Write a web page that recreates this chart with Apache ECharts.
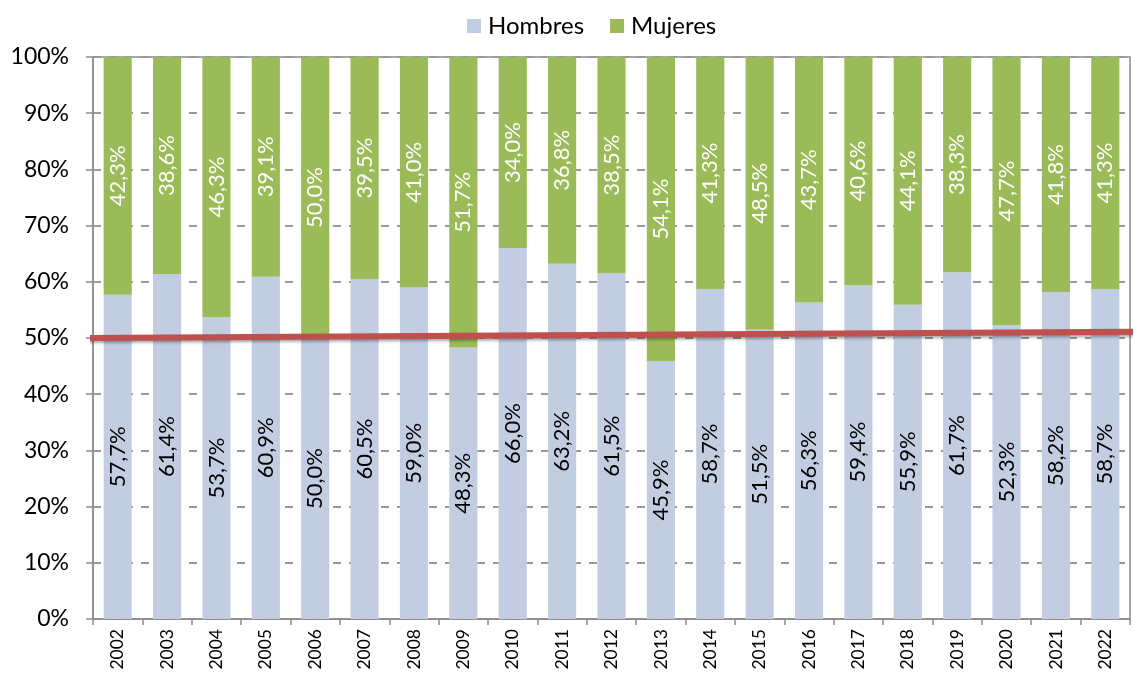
<!DOCTYPE html>
<html>
<head>
<meta charset="utf-8">
<script src="https://cdn.jsdelivr.net/npm/echarts@6/dist/echarts.min.js"></script>
<style>html,body{margin:0;padding:0;background:#fff}#c{width:1134px;height:677px}</style>
</head>
<body>
<div id="c"></div>
<script>
const years = ['2002','2003','2004','2005','2006','2007','2008','2009','2010','2011','2012','2013','2014','2015','2016','2017','2018','2019','2020','2021','2022'];
const hombres = [57.7,61.4,53.7,60.9,50.0,60.5,59.0,48.3,66.0,63.2,61.5,45.9,58.7,51.5,56.3,59.4,55.9,61.7,52.3,58.2,58.7];
const mujeres = [42.3,38.6,46.3,39.1,50.0,39.5,41.0,51.7,34.0,36.8,38.5,54.1,41.3,48.5,43.7,40.6,44.1,38.3,47.7,41.8,41.3];
const yTicks = [0,10,20,30,40,50,60,70,80,90,100];
const refLine = [50.0, 51.1];

const FONT = 'Lato, "Open Sans", sans-serif';
const fmt = v => v.toFixed(1).replace('.', ',') + '%';

const chart = echarts.init(document.getElementById('c'));
chart.setOption({
  animation: false,
  textStyle: { fontFamily: FONT },
  legend: {
    top: 9, left: 462,
    itemWidth: 14, itemHeight: 14, itemGap: 26,
    icon: 'rect',
    textStyle: { fontSize: 24, color: '#000', fontFamily: FONT, padding: [0, 0, 0, 2] },
    data: ['Hombres', 'Mujeres']
  },
  grid: { left: 93, right: 4, top: 57, bottom: 58, show: true, borderColor: '#8c8c8c', borderWidth: 1.5 },
  xAxis: [{
    type: 'category', data: years,
    axisLine: { lineStyle: { color: '#8c8c8c', width: 1.5 } },
    axisTick: { show: true, alignWithLabel: false, length: 6, lineStyle: { color: '#8c8c8c', width: 1.5 } },
    axisLabel: { rotate: 90, fontSize: 17.5, color: '#000', margin: 10, fontFamily: FONT }
  }, {
    type: 'value', min: 0.0067, max: 0.9962, show: false
  }],
  yAxis: {
    type: 'value', min: 0, max: 100, interval: 10,
    axisLine: { show: true, lineStyle: { color: '#8c8c8c', width: 1.5 } },
    axisTick: { show: true, length: 7, lineStyle: { color: '#8c8c8c', width: 1.5 } },
    axisLabel: { fontSize: 23, color: '#000', margin: 24, fontFamily: FONT,
      formatter: v => yTicks.includes(v) ? v + '%' : '' },
    splitLine: { show: true, lineStyle: { color: '#999', width: 2, type: [8, 8] } }
  },
  series: [{
    name: 'Hombres', type: 'bar', stack: 't', data: hombres, barWidth: '57%',
    itemStyle: { color: '#c3cde1' },
    label: { show: true, position: 'inside', rotate: 90, formatter: p => fmt(p.value), fontSize: 22, color: '#000', fontFamily: FONT }
  }, {
    name: 'Mujeres', type: 'bar', stack: 't', data: mujeres, barWidth: '57%',
    itemStyle: { color: '#9bbb59' },
    label: { show: true, position: 'inside', rotate: 90, formatter: p => fmt(p.value), fontSize: 22, color: '#fff', fontFamily: FONT }
  }, {
    name: 'ref', type: 'line', xAxisIndex: 1, clip: false, symbol: 'none', silent: true,
    data: [[0, refLine[0]], [1, refLine[1]]],
    lineStyle: { color: '#c0504d', width: 6, shadowColor: 'rgba(0,0,0,0.35)', shadowBlur: 3, shadowOffsetY: 2 },
    z: 5
  }]
});
</script>
</body>
</html>
